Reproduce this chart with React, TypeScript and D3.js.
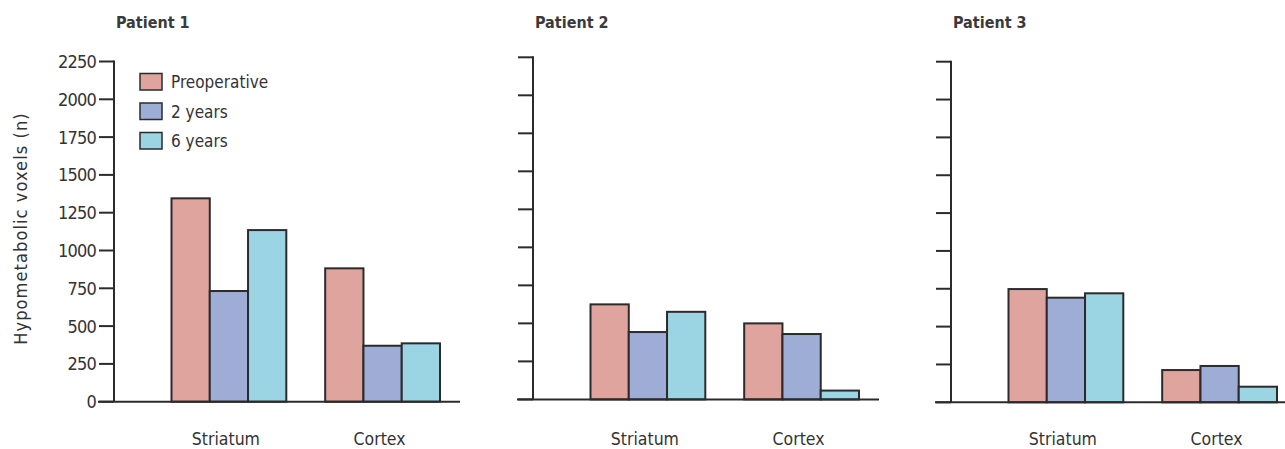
import React from "react";
import * as d3 from "d3";

const patients = ["Patient 1", "Patient 2", "Patient 3"];
const categories = ["Striatum", "Cortex"];
const seriesNames = ["Preoperative", "2 years", "6 years"];
const legendLabels = ["Preoperative", "2 years", "6 years"];
// values per patient: [category][series]
const patient1 = [
  [1345, 732, 1135],
  [882, 370, 386],
];
const patient2 = [
  [625, 443, 576],
  [500, 430, 58],
];
const patient3 = [
  [748, 691, 720],
  [213, 240, 103],
];
const tickValues = [0, 250, 500, 750, 1000, 1250, 1500, 1750, 2000, 2250];
const yAxisLabel = "Hypometabolic voxels (n)";

const colors = ["#e0a49f", "#9eadd6", "#9bd5e3"];
const stroke = "#2b2b2b";
const textColor = "#333";
const font = "'DejaVu Sans Condensed', 'Liberation Sans', sans-serif";

const panelData = [patient1, patient2, patient3];
const axisX = [114, 533, 951];
const zeroY = [401.7, 399.4, 402.3];
const topY = [61.5, 57.3, 61.7];

export default function App() {
  const W = 1285;
  const H = 449;
  return (
    <svg
      width={W}
      height={H}
      style={{ position: "absolute", left: 0, top: 0, background: "#fff" }}
      fontFamily={font}
    >
      <rect x={0} y={0} width={W} height={H} fill="#fff" />
      {panelData.map((data, pi) => {
        const ax = axisX[pi];
        const y = d3.scaleLinear().domain([0, 2250]).range([zeroY[pi], topY[pi]]);
        const x0 = d3
          .scaleBand<string>()
          .domain(categories)
          .range([ax + 57.5, ax + 326])
          .paddingInner(0.253)
          .paddingOuter(0);
        const x1 = d3.scaleBand<string>().domain(seriesNames).range([0, x0.bandwidth()]).padding(0);
        return (
          <g key={pi}>
            <text
              x={ax + 2}
              y={28}
              fontSize={16}
              fontWeight="bold"
              fill="#3a3a3a"
            >
              {patients[pi]}
            </text>
            {/* bars */}
            {categories.map((c, ci) =>
              seriesNames.map((s, si) => {
                const v = data[ci][si];
                const bx = (x0(c) as number) + (x1(s) as number);
                return (
                  <rect
                    key={c + s}
                    x={bx}
                    y={y(v)}
                    width={x1.bandwidth()}
                    height={y(0) - y(v)}
                    fill={colors[si]}
                    stroke={stroke}
                    strokeWidth={2}
                  />
                );
              })
            )}
            {/* y axis */}
            <line x1={ax} x2={ax} y1={y(2250) - 1} y2={y(0)} stroke={stroke} strokeWidth={2} />
            {tickValues.map((t) => (
              <line key={t} x1={ax - 15} x2={ax} y1={y(t)} y2={y(t)} stroke={stroke} strokeWidth={2} />
            ))}
            {/* baseline */}
            <line x1={ax - 16} x2={ax + 346} y1={y(0)} y2={y(0)} stroke={stroke} strokeWidth={2} />
            {pi === 0 &&
              tickValues.map((t) => (
                <text
                  key={"l" + t}
                  x={ax - 18}
                  y={y(t)}
                  dy="0.36em"
                  textAnchor="end"
                  fontSize={18}
                  letterSpacing={-0.8}
                  fill={textColor}
                >
                  {t}
                </text>
              ))}
            {categories.map((c) => (
              <text
                key={"c" + c}
                x={(x0(c) as number) + x0.bandwidth() / 2 - 3}
                y={445}
                textAnchor="middle"
                fontSize={17.5}
                fill={textColor}
              >
                {c}
              </text>
            ))}
            {pi === 0 && (
              <g>
                {legendLabels.map((l, li) => (
                  <g key={l} transform={`translate(140, ${73.5 + li * 29.5})`}>
                    <rect x={0} y={0} width={22} height={16.5} fill={colors[li]} stroke={stroke} strokeWidth={1.5} />
                    <text x={31} y={8.5} dy="0.36em" fontSize={17} fill={textColor}>
                      {l}
                    </text>
                  </g>
                ))}
                <text
                  transform={`translate(27, 228.5) rotate(-90)`}
                  textAnchor="middle"
                  fontSize={18}
                  letterSpacing={1.1}
                  fill={textColor}
                >
                  {yAxisLabel}
                </text>
              </g>
            )}
          </g>
        );
      })}
    </svg>
  );
}
